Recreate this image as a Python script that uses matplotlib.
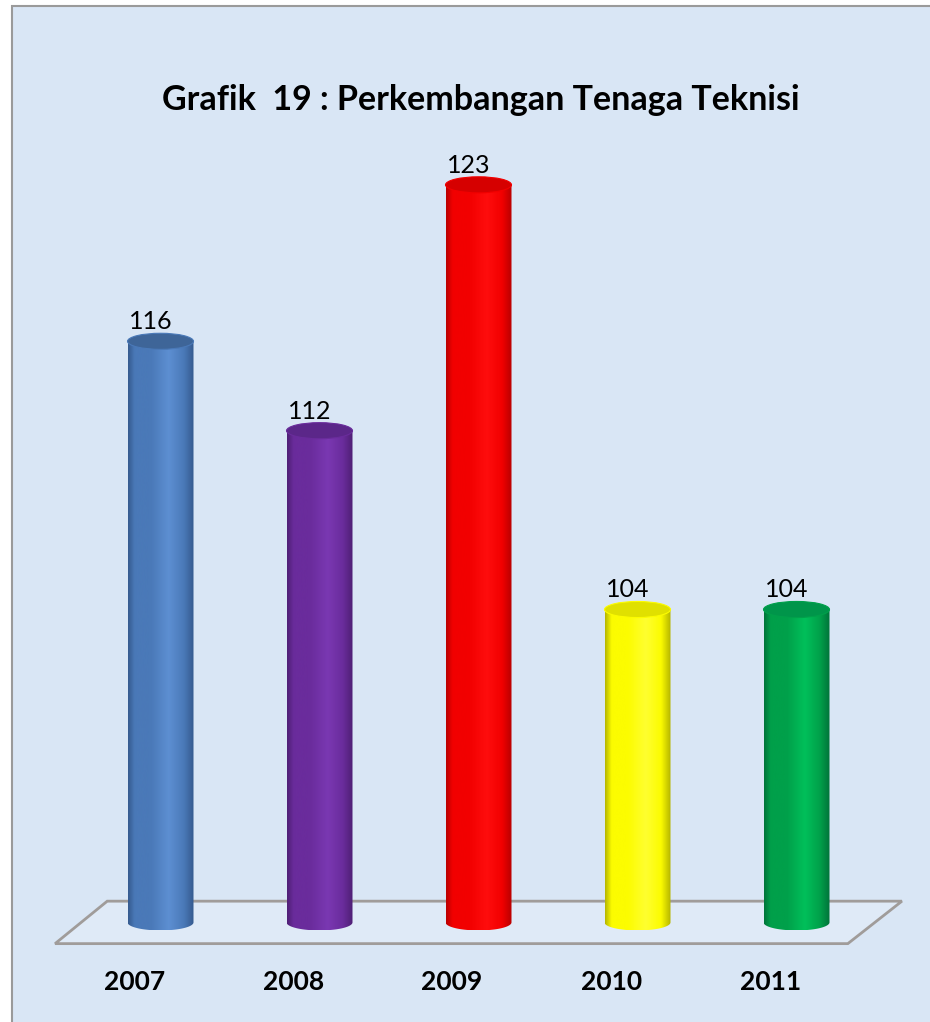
import numpy as np
import matplotlib
matplotlib.use("Agg")
import matplotlib.pyplot as plt
from matplotlib.patches import Ellipse, Polygon, Rectangle, PathPatch
from matplotlib.path import Path
from matplotlib.colors import LinearSegmentedColormap

# ---- data ----
years = ["2007", "2008", "2009", "2010", "2011"]
values = [116, 112, 123, 104, 104]
title = "Grafik  19 : Perkembangan Tenaga Teknisi"

# ---- styles: (edge dark, mid, highlight) ----
body_colors = [
    ("#355a8e", "#4a79b8", "#5d8fd2"),
    ("#4e1f74", "#6a2c9c", "#7a38b2"),
    ("#b80000", "#f20000", "#ff0d0d"),
    ("#b4b400", "#fcfc00", "#ffff30"),
    ("#00733a", "#00a04a", "#00c05a"),
]
top_colors = ["#3e6598", "#5b2789", "#d60000", "#e0e000", "#00954a"]
base = 90
bar_w = 0.415
ell_h = 0.72
bg = "#d9e6f5"

fig = plt.figure(figsize=(9.3, 10.22), dpi=100)
fig.patch.set_facecolor("white")

ax = fig.add_axes([0, 0, 1, 1])
ax.set_facecolor("none")
ax.axis("off")
ax.set_xlim(-160.5 / 159, (930 - 160.5) / 159)
ax.set_ylim(90 - 99.6 / 22.35, 90 + 922.4 / 22.35)

# background frame
ax.add_patch(Rectangle((12 / 930, -0.01), 1, 1.01 - 6 / 1022, transform=fig.transFigure,
                       facecolor=bg, edgecolor="#9a9a9a", linewidth=1.5, zorder=0,
                       clip_on=False))

x = np.arange(len(years))

# floor parallelogram
floor = Polygon([(-0.663, 89.05), (-0.335, 90.95), (4.663, 90.95), (4.323, 89.05)],
                closed=True, facecolor="#dfeaf7", edgecolor="#a09c9a", linewidth=2.0,
                zorder=1)
ax.add_patch(floor)

bars = ax.bar(x, [v - base for v in values], bottom=base, width=bar_w,
              color="none", edgecolor="none", zorder=2)

theta = np.linspace(np.pi, 2 * np.pi, 60)
for i, (b, v) in enumerate(zip(bars, values)):
    x0, w, h = b.get_x(), b.get_width(), b.get_height()
    cx = x0 + w / 2
    y0 = b.get_y()
    arc = np.column_stack([cx + (w / 2) * np.cos(theta), y0 + (ell_h / 2) * np.sin(theta)])
    verts = np.vstack([[x0, y0 + h], [x0, y0], arc[1:-1], [x0 + w, y0], [x0 + w, y0 + h], [x0, y0 + h]])
    path = Path(verts, closed=True)
    clip = PathPatch(path, transform=ax.transData, facecolor="none", edgecolor="none")
    ax.add_patch(clip)
    dark, mid, light = body_colors[i]
    cmap = LinearSegmentedColormap.from_list(
        f"c{i}", [(0, dark), (0.1, mid), (0.35, mid), (0.62, light), (0.85, mid), (1, dark)])
    grad = np.linspace(0, 1, 256).reshape(1, -1)
    im = ax.imshow(grad, cmap=cmap, extent=[x0, x0 + w, y0 - ell_h / 2, y0 + h],
                   aspect="auto", zorder=3, interpolation="bicubic")
    im.set_clip_path(clip)
    ax.add_patch(Ellipse((cx, v), w, ell_h, facecolor=top_colors[i],
                         edgecolor=mid, linewidth=0.8, zorder=4))
    ax.annotate(str(v), (cx, v + ell_h / 2), xytext=(-7, 0), textcoords="offset points",
                ha="center", va="bottom", fontsize=18, family=["Lato", "DejaVu Sans"],
                color="black", zorder=5)

for xi, yr in zip(x, years):
    ax.annotate(yr, (xi, base), xytext=(-19, -43), textcoords="offset points",
                ha="center", va="center", fontsize=19, fontweight="bold",
                family=["Lato", "DejaVu Sans"], color="black", zorder=5)

ax.text(481 / 930, 1 - 100 / 1022, title, transform=fig.transFigure, ha="center",
        va="center", fontsize=24.5, fontweight="bold", family=["Lato", "DejaVu Sans"],
        color="black", zorder=5)

fig.savefig("out.png", dpi=100, facecolor=fig.get_facecolor())
